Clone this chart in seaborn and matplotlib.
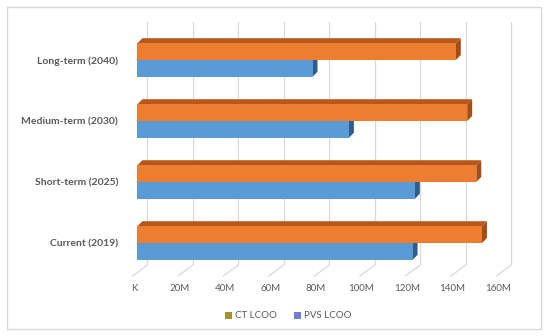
import matplotlib
matplotlib.use("Agg")
import matplotlib.pyplot as plt
import pandas as pd
import seaborn as sns
from matplotlib.patches import Patch, Polygon, Rectangle

# values in millions
scenarios = ["Long-term (2040)", "Medium-term (2030)", "Short-term (2025)", "Current (2019)"]
ct_lcoo = [140, 145, 149, 151.5]
pvs_lcoo = [77, 93, 122, 121]
series = ["CT LCOO", "PVS LCOO"]
tick_values = [0, 20, 40, 60, 80, 100, 120, 140, 160]
tick_labels = ["K", "20M", "40M", "60M", "80M", "100M", "120M", "140M", "160M"]

colors = {"CT LCOO": "#ED7D31", "PVS LCOO": "#5B9BD5"}
top_colors = {"CT LCOO": "#B9571B", "PVS LCOO": "#3F74A6"}
side_colors = {"CT LCOO": "#A44E17", "PVS LCOO": "#2F5E8C"}
legend_colors = {"CT LCOO": "#A89030", "PVS LCOO": "#7080D0"}

df = pd.DataFrame({
    "scenario": scenarios * 2,
    "series": [series[0]] * len(scenarios) + [series[1]] * len(scenarios),
    "value": ct_lcoo + pvs_lcoo,
})

sns.set_theme(style="white")
plt.rcParams["font.family"] = ["Lato", "DejaVu Sans"]

W, H = 550, 336
fig = plt.figure(figsize=(5.5, 3.36), dpi=100)
ax_l, ax_r, ax_t, ax_b = 134, 515, 22, 265
ax = fig.add_axes([ax_l / W, 1 - ax_b / H, (ax_r - ax_l) / W, (ax_b - ax_t) / H])

sns.barplot(data=df, x="value", y="scenario", hue="series", order=scenarios,
            hue_order=series, palette=colors, orient="h", width=0.55,
            saturation=1, errorbar=None, legend=False, linewidth=0, ax=ax)

px_per_m = 2.295
px_per_cat = 61.0
ax.set_xlim(0, (ax_r - ax_l) / px_per_m)
ax.set_ylim(3 + (ax_b - 243) / px_per_cat, -(60 - ax_t) / px_per_cat)

# pseudo 3D depth
dx = 5 / px_per_m
dy = -5 / px_per_cat
for container, name in zip(ax.containers, series):
    for bar in container:
        bar.set_zorder(3)
        x0, y0 = bar.get_x(), bar.get_y()
        w, h = bar.get_width(), bar.get_height()
        top = Polygon([(x0, y0), (x0 + w, y0), (x0 + w + dx, y0 + dy), (x0 + dx, y0 + dy)],
                      closed=True, facecolor=top_colors[name], edgecolor="none", zorder=2)
        side = Polygon([(x0 + w, y0), (x0 + w + dx, y0 + dy), (x0 + w + dx, y0 + h + dy), (x0 + w, y0 + h)],
                       closed=True, facecolor=side_colors[name], edgecolor="none", zorder=2)
        ax.add_patch(top)
        ax.add_patch(side)

# back wall gridlines and floor lines
back = 10 / px_per_m
floor_dx = -15 / px_per_m
floor_dy = 11 / px_per_cat
y_top, y_bot = ax.get_ylim()[1], ax.get_ylim()[0]
for v in tick_values:
    ax.plot([v + back, v + back], [y_top, y_bot], color="#D9D9D9", lw=0.9, zorder=0)
    ax.plot([v + back, v + back + floor_dx], [y_bot, y_bot + floor_dy], color="#D9D9D9",
            lw=0.9, zorder=0, clip_on=False)

ax.set_xticks([v - 1.5 for v in tick_values])
ax.set_xticklabels(tick_labels, fontsize=7, color="#595959")
ax.tick_params(axis="x", length=0, pad=14)
ax.tick_params(axis="y", length=0, pad=11.5)
for lbl in ax.get_yticklabels():
    lbl.set_fontsize(7.5)
    lbl.set_fontweight("bold")
    lbl.set_color("#595959")
ax.set_xlabel("")
ax.set_ylabel("")
for s in ax.spines.values():
    s.set_visible(False)
ax.patch.set_alpha(0)

handles = [Patch(facecolor=legend_colors[s], edgecolor="none", label=s) for s in series]
fig.legend(handles=handles, loc="center", bbox_to_anchor=(288 / W, 1 - 316 / H), ncol=2,
           frameon=False, fontsize=7, handlelength=0.7, handleheight=0.7,
           handletextpad=0.3, columnspacing=1.8, labelcolor="#595959")

fig.patches.append(Rectangle((7 / W, 1 - 329 / H), (541 - 7) / W, (329 - 7) / H,
                             transform=fig.transFigure, fill=False, edgecolor="#D9D9D9",
                             lw=1, zorder=-1))

fig.savefig("out.png", dpi=100)
